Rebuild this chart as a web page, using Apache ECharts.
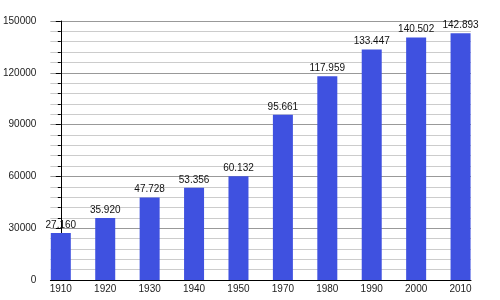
<!DOCTYPE html>
<html><head><meta charset="utf-8">
<script src="https://cdn.jsdelivr.net/npm/echarts@6/dist/echarts.min.js"></script>
<style>html,body{margin:0;padding:0;background:#fff}#c{width:500px;height:300px}</style>
</head><body><div id="c"></div>
<script>
var years = ['1910','1920','1930','1940','1950','1970','1980','1990','2000','2010'];
var population = [27160, 35920, 47728, 53356, 60132, 95661, 117959, 133447, 140502, 142893];
var yMax = 150000;
var yInterval = 30000;

function fmt(v){ return String(v).replace(/\B(?=(\d{3})+(?!\d))/g, '.'); }

var idx = years.map(function(_, i){ return i; });
var seriesData = population.map(function(v, i){ return [i, v]; });
var FONT = 'Liberation Sans, Arial, sans-serif';

var chart = echarts.init(document.getElementById('c'), null, {renderer:'canvas'});
chart.setOption({
  animation: false,
  grid: {left: 50, right: 29, top: 21, bottom: 20, containLabel: false},
  xAxis: {
    type: 'value', min: -0.235, max: 9.235,
    axisLine: {show: true, onZero: false, lineStyle: {color: '#000', width: 1}},
    axisTick: {show: false},
    splitLine: {show: false},
    axisLabel: {customValues: idx, color: '#222', fontSize: 10, fontFamily: FONT, margin: 4,
      formatter: function(v){ return years[Math.round(v)]; }}
  },
  yAxis: {
    type: 'value', min: 0, max: yMax, interval: yInterval,
    axisLine: {show: true, lineStyle: {color: '#000', width: 1}},
    axisTick: {show: true, inside: false, length: 5, lineStyle: {color: '#000'}},
    minorTick: {show: true, splitNumber: 5, length: 3, lineStyle: {color: '#000'}},
    axisLabel: {color: '#222', fontSize: 10, fontFamily: FONT, margin: 14,
      formatter: function(v){ return String(v); }},
    splitLine: {show: true, lineStyle: {color: '#999', width: 1}},
    minorSplitLine: {show: true, lineStyle: {color: '#ccc', width: 1}}
  },
  series: [{
    type: 'bar', data: seriesData, barWidth: 20,
    itemStyle: {color: '#3f51e0'},
    label: {show: true, position: 'top', distance: 3, color: '#111', fontSize: 10, fontFamily: FONT,
      formatter: function(p){ return fmt(p.value[1]); }}
  }]
});
</script></body></html>
